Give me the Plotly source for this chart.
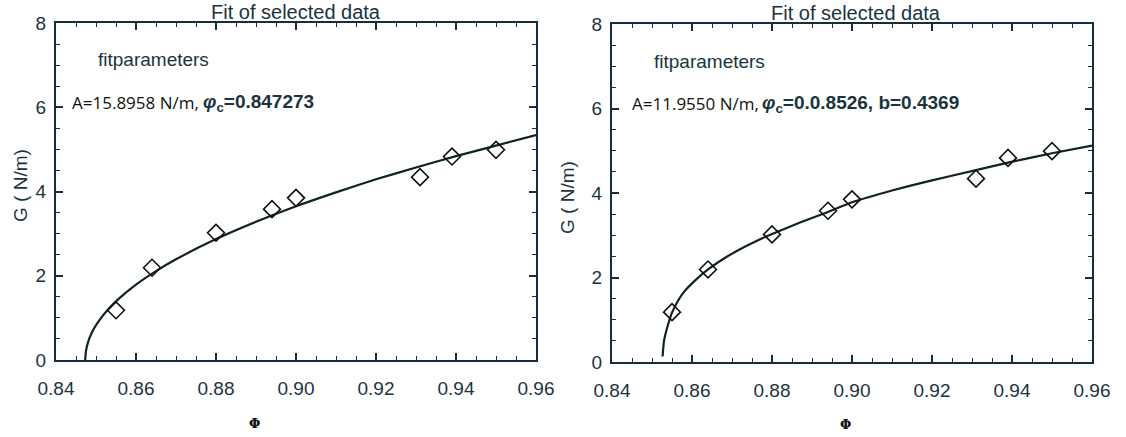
import plotly.graph_objects as go
from plotly.subplots import make_subplots

W, H = 1126, 437

# ---- data ----
phi_data = [0.855, 0.864, 0.880, 0.894, 0.900, 0.931, 0.939, 0.950]
g_data = [1.18, 2.19, 3.02, 3.58, 3.85, 4.34, 4.83, 4.99]

fit1_phi = [0.8473, 0.8475, 0.8480, 0.8490, 0.8505, 0.8530, 0.8560, 0.8600, 0.8650,
            0.8700, 0.8800, 0.8900, 0.9000, 0.9100, 0.9200, 0.9300, 0.9400, 0.9500, 0.9600]
fit1_g = [0.0, 0.22, 0.42, 0.66, 0.90, 1.20, 1.48, 1.79, 2.11, 2.39, 2.87, 3.28, 3.65,
          3.98, 4.29, 4.57, 4.84, 5.09, 5.34]

fit2_phi = [0.85265, 0.8530, 0.8540, 0.8550, 0.8565, 0.8580, 0.8610, 0.8640, 0.8680,
            0.8720, 0.8760, 0.8800, 0.8870, 0.8940, 0.9000, 0.9100, 0.9200, 0.9310,
            0.9390, 0.9500, 0.9600]
fit2_g = [0.13, 0.50, 0.88, 1.17, 1.45, 1.66, 1.95, 2.19, 2.45, 2.67, 2.86, 3.03, 3.30,
          3.55, 3.78, 4.06, 4.30, 4.54, 4.72, 4.94, 5.12]

x_ticks = [0.84, 0.86, 0.88, 0.90, 0.92, 0.94, 0.96]
y_ticks = [0, 2, 4, 6, 8]

title_text = "Fit of selected data"
param_head = "fitparameters"
params1 = ("A=15.8958 N/m,", "0.847273")
params2 = ("A=11.9550 N/m,", "0.0.8526, b=0.4369")

# ---- styling ----
TEAL = "#1a343d"
AXC = "#142f37"
FONT = "Liberation Sans"


def px(x):
    return x / W


def py(y):
    return 1 - y / H


fig = make_subplots(rows=1, cols=2)

for col, (fp, fg) in enumerate([(fit1_phi, fit1_g), (fit2_phi, fit2_g)], start=1):
    fig.add_trace(go.Scatter(x=fp, y=fg, mode="lines",
                             line=dict(color="#0f2329", width=2.2, shape="spline", smoothing=0.5),
                             showlegend=False, hoverinfo="skip"), row=1, col=col)
    fig.add_trace(go.Scatter(x=phi_data, y=g_data, mode="markers",
                             marker=dict(symbol="diamond-open", size=13, color="#111111",
                                         line=dict(color="#111111", width=1.6)),
                             showlegend=False), row=1, col=col)

xdoms = [[px(56), px(536)], [px(612), px(1092)]]
ydoms = [[py(360), py(23)], [py(362), py(24)]]

for i in range(2):
    xa = dict(domain=xdoms[i], range=[0.84, 0.96], tickvals=x_ticks,
              ticktext=[f"{v:.2f}" for v in x_ticks],
              ticks="inside", ticklen=7, tickwidth=1.6, tickcolor=AXC,
              minor=dict(dtick=0.005, tick0=0.84, ticks="inside", ticklen=4,
                         tickwidth=1.2, tickcolor=AXC),
              showline=True, linecolor=AXC, linewidth=2, mirror="allticks",
              showgrid=False, zeroline=False, automargin=False,
              tickfont=dict(family=FONT, size=19, color=TEAL),
              ticklabelstandoff=10)
    ya = dict(domain=ydoms[i], range=[0, 8], tickvals=y_ticks,
              ticktext=[str(v) for v in y_ticks],
              ticks="inside", ticklen=7, tickwidth=1.6, tickcolor=AXC,
              minor=dict(dtick=0.5, tick0=0, ticks="inside", ticklen=4,
                         tickwidth=1.2, tickcolor=AXC),
              showline=True, linecolor=AXC, linewidth=2, mirror="allticks",
              showgrid=False, zeroline=False, automargin=False,
              tickfont=dict(family=FONT, size=19, color=TEAL),
              ticklabelstandoff=4)
    suffix = "" if i == 0 else "2"
    fig.layout["xaxis" + suffix].update(xa)
    fig.layout["yaxis" + suffix].update(ya)


def add_text(x, y, text, size, color, family=FONT, xanchor="center", angle=0):
    fig.add_annotation(x=px(x), y=py(y), xref="paper", yref="paper", text=text,
                       showarrow=False, xanchor=xanchor, yanchor="middle",
                       textangle=angle,
                       font=dict(family=family, size=size, color=color))


# titles
for cx, cy in [(296, 12), (856, 13)]:
    add_text(cx, cy, title_text, 20, TEAL)
# fitparameters heading
for lx, cy in [(96, 59), (652, 61)]:
    add_text(lx, cy, param_head, 19, TEAL, xanchor="left")
# parameter lines
for (lx, rx, cy), (a_txt, rest) in zip([(70, 201, 102), (630, 760, 103)], [params1, params2]):
    add_text(lx, cy, a_txt, 17, "#111111", family="Open Sans", xanchor="left")
    add_text(rx, cy + 1, "<b><i>φ</i><sub>c</sub>=" + rest + "</b>", 19, TEAL, xanchor="left")
# y axis titles
for cx, cy in [(21, 186), (567, 198)]:
    add_text(cx, cy, "G ( N/m)", 19, TEAL, angle=-90)
# x axis titles
for cx, cy in [(254, 423), (845, 424)]:
    add_text(cx, cy, "<b>Φ</b>", 13, "#111111", family="DejaVu Serif")

fig.update_layout(width=W, height=H, margin=dict(l=0, r=0, t=0, b=0, pad=0),
                  paper_bgcolor="white", plot_bgcolor="white", showlegend=False)

fig.write_html("out.html")
